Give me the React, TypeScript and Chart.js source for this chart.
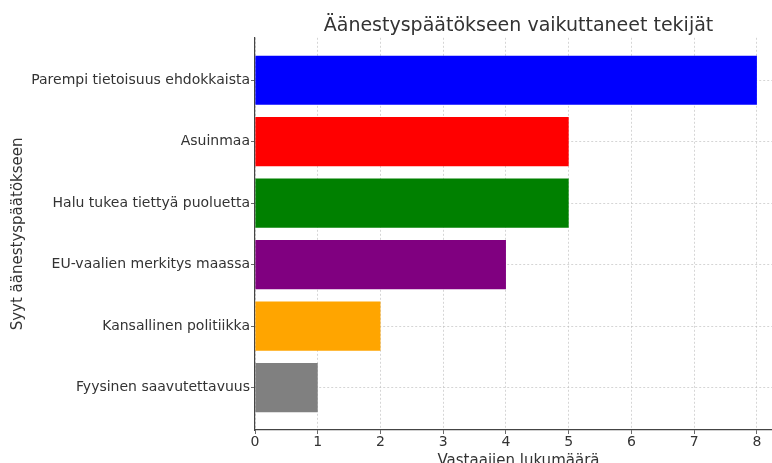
import React, { useEffect, useRef } from "react";
import { Chart, registerables } from "chart.js";

Chart.register(...registerables);

const categories = [
  "Fyysinen saavutettavuus",
  "Kansallinen politiikka",
  "EU-vaalien merkitys maassa",
  "Halu tukea tiettyä puoluetta",
  "Asuinmaa",
  "Parempi tietoisuus ehdokkaista",
];
const counts = [1, 2, 4, 5, 5, 8];
const barColors = ["#808080", "#ffa500", "#800080", "#008000", "#ff0000", "#0000ff"];
const xTicks = [0, 1, 2, 3, 4, 5, 6, 7, 8];

const TITLE = "Äänestyspäätökseen vaikuttaneet tekijät";
const X_TITLE = "Vastaajien lukumäärä";
const Y_TITLE = "Syyt äänestyspäätökseen";

const FONT = "'DejaVu Sans', sans-serif";
const TEXT = "#333333";
const GRID = "rgba(185,185,185,0.75)";

const titleOverPlot = {
  id: "titleOverPlot",
  afterLayout(chart: any) {
    const t = chart.titleBlock;
    if (t && chart.chartArea) {
      t.left = chart.chartArea.left;
      t.right = chart.chartArea.right;
      t.width = t.right - t.left;
    }
  },
};

export default function App() {
  const ref = useRef<HTMLCanvasElement | null>(null);

  useEffect(() => {
    document.body.style.margin = "0";
    const canvas = ref.current;
    if (!canvas) return;
    const n = categories.length;
    const chart = new Chart(canvas, {
      type: "bar",
      data: {
        datasets: [
          {
            data: counts.map((v, i) => ({ x: v, y: i })),
            backgroundColor: barColors,
            borderWidth: 0,
            barPercentage: 0.8,
            categoryPercentage: 1,
          },
        ],
      },
      plugins: [titleOverPlot],
      options: {
        indexAxis: "y",
        responsive: false,
        animation: false,
        devicePixelRatio: 1,
        layout: { padding: { left: 0, right: 1, top: 0, bottom: 0 } },
        plugins: {
          legend: { display: false },
          tooltip: { enabled: false },
          title: {
            display: true,
            text: TITLE,
            color: TEXT,
            font: { family: FONT, size: 19, weight: "normal" },
            padding: { top: 15, bottom: 0 },
            align: "center",
          },
        },
        scales: {
          x: {
            type: "linear",
            min: 0,
            max: 8.4,
            offset: false,
            z: 1,
            afterBuildTicks: (s: any) => {
              s.ticks = xTicks.map((v) => ({ value: v }));
            },
            afterFit: (s: any) => {
              s.height = 45;
            },
            ticks: {
              color: TEXT,
              font: { family: FONT, size: 14 },
              padding: 0,
              maxRotation: 0,
            },
            grid: {
              offset: false,
              color: GRID,
              tickBorderDash: [],
              tickColor: "#444",
              tickLength: 4,
              lineWidth: 0.8,
            },
            border: { display: true, color: "#444", width: 1.2, dash: [2, 2] },
            title: {
              display: true,
              text: X_TITLE,
              color: TEXT,
              font: { family: FONT, size: 15 },
              padding: { top: 0, bottom: 5 },
            },
          },
          y: {
            type: "linear",
            min: -0.69,
            max: n - 1 + 0.69,
            offset: false,
            z: 1,
            afterBuildTicks: (s: any) => {
              s.ticks = categories.map((_, i) => ({ value: i }));
            },
            afterFit: (s: any) => {
              s.width = 255;
            },
            ticks: {
              color: TEXT,
              font: { family: FONT, size: 14 },
              padding: 1,
              callback: (v: any) => categories[Math.round(Number(v))] ?? "",
            },
            grid: {
              offset: false,
              color: GRID,
              tickBorderDash: [],
              tickColor: "#444",
              tickLength: 4,
              lineWidth: 0.8,
            },
            border: { display: true, color: "#444", width: 1.2, dash: [2, 2] },
            title: {
              display: true,
              text: Y_TITLE,
              color: TEXT,
              font: { family: FONT, size: 15 },
              padding: { top: 9, bottom: 0 },
            },
          },
        },
      },
    } as any);
    return () => chart.destroy();
  }, []);

  return (
    <div style={{ position: "absolute", left: 0, top: 0, width: 772, height: 463, overflow: "hidden", background: "#fff" }}>
      <canvas ref={ref} width={783} height={475} style={{ display: "block" }} />
    </div>
  );
}
